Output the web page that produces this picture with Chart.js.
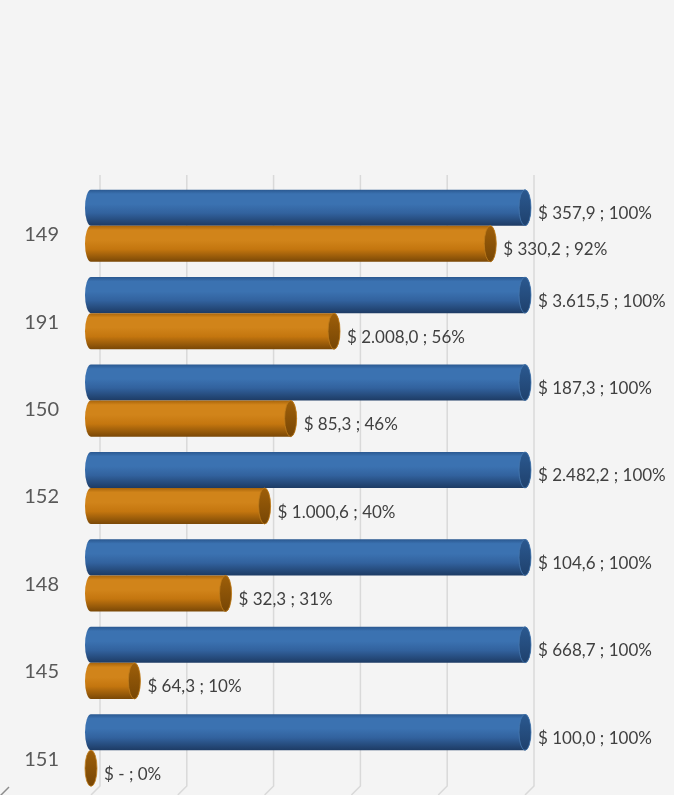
<!DOCTYPE html>
<html>
<head>
<meta charset="utf-8">
<script src="https://cdn.jsdelivr.net/npm/chart.js@4.4.1/dist/chart.umd.min.js"></script>
<style>
  html, body { margin: 0; padding: 0; background: #f4f4f4; }
  #wrap { width: 674px; height: 795px; position: relative; }
</style>
</head>
<body>
<div id="wrap"><canvas id="barChart"></canvas></div>
<script>
// data
const categories = ['149', '191', '150', '152', '148', '145', '151'];
const totalAmounts = [357.9, 3615.5, 187.3, 2482.2, 104.6, 668.7, 100.0];
const totalPct = [100, 100, 100, 100, 100, 100, 100];
const partAmounts = [330.2, 2008.0, 85.3, 1000.6, 32.3, 64.3, 0];
const partPct = [92, 56, 46, 40, 31, 10, 0];
const axisTicks = [0, 20, 40, 60, 80, 100];

const DEPTH_X = 9, DEPTH_Y = 8; // 3d offset of back wall

const blue = { edge: '#2a5890', light: '#3b72b1', mid: '#32629e', dark: '#1d3b64', cap1: '#2b5990', cap2: '#1f416d', rim: '#4577ae' };
const orange = { edge: '#a9650b', light: '#d1841a', mid: '#c4760f', dark: '#7a4806', cap1: '#9e5f09', cap2: '#774605', rim: '#bf7c1c' };

// "$ 3.615,5 ; 100%"
function fmtMoney(v) {
    if (!v) return '$ -';
    const parts = v.toFixed(1).split('.');
    parts[0] = parts[0].replace(/\B(?=(\d{3})+(?!\d))/g, '.');
    return '$ ' + parts[0] + ',' + parts[1];
}

function drawCylinder(ctx, x0, x1, y, h, c) {
    const rx = 6, ry = h / 2, top = y - ry;
    const g = ctx.createLinearGradient(0, top, 0, top + h);
    g.addColorStop(0, c.edge);
    g.addColorStop(0.12, c.light);
    g.addColorStop(0.4, c.light);
    g.addColorStop(0.65, c.mid);
    g.addColorStop(1, c.dark);
    if (x1 > x0) {
        ctx.beginPath();
        ctx.ellipse(x0, y, rx, ry, 0, Math.PI / 2, Math.PI * 1.5);
        ctx.lineTo(x1, top);
        ctx.ellipse(x1, y, rx, ry, 0, Math.PI * 1.5, Math.PI * 2.5);
        ctx.closePath();
        ctx.fillStyle = g;
        ctx.fill();
    }
    // end cap
    const cg = ctx.createLinearGradient(0, top, 0, top + h);
    cg.addColorStop(0, c.cap1);
    cg.addColorStop(1, c.cap2);
    ctx.beginPath();
    ctx.ellipse(x1, y, rx, ry, 0, 0, Math.PI * 2);
    ctx.fillStyle = cg;
    ctx.fill();
    ctx.lineWidth = 0.8;
    ctx.strokeStyle = c.rim;
    ctx.stroke();
}

// 1. BACKGROUND + BACK WALL GRID
const wallPlugin = {
    id: 'wall',
    beforeDraw(chart) {
        const ctx = chart.ctx;
        ctx.save();
        ctx.fillStyle = '#f4f4f4';
        ctx.fillRect(0, 0, chart.width, chart.height);
        ctx.restore();
    },
    beforeDatasetsDraw(chart) {
        const ctx = chart.ctx, area = chart.chartArea, xs = chart.scales.x;
        ctx.save();
        ctx.strokeStyle = '#d9d9d9';
        ctx.lineWidth = 1.5;
        axisTicks.forEach(t => {
            const px = xs.getPixelForValue(t);
            ctx.beginPath();
            ctx.moveTo(px + DEPTH_X, area.top - DEPTH_Y + 1);
            ctx.lineTo(px + DEPTH_X, area.bottom - DEPTH_Y);
            ctx.lineTo(px, area.bottom + 1);
            ctx.stroke();
        });
        // floor edge on the left
        ctx.strokeStyle = '#8c8c8c';
        ctx.beginPath();
        ctx.moveTo(0, area.bottom + 2);
        ctx.lineTo(DEPTH_X, area.bottom - DEPTH_Y + 1);
        ctx.stroke();
        ctx.restore();
    }
};

// 2. CYLINDERS + LABELS
const cylinderPlugin = {
    id: 'cylinders',
    afterDatasetsDraw(chart) {
        const ctx = chart.ctx;
        ctx.save();
        chart.data.datasets.forEach((ds, di) => {
            const meta = chart.getDatasetMeta(di);
            const colors = di === 0 ? blue : orange;
            const amounts = di === 0 ? totalAmounts : partAmounts;
            meta.data.forEach((bar, i) => {
                const p = bar.getProps(['x', 'y', 'base', 'height'], true);
                drawCylinder(ctx, p.base, p.x, p.y, p.height, colors);
                ctx.fillStyle = '#404040';
                ctx.font = '17px Lato, Carlito, sans-serif';
                ctx.textBaseline = 'middle';
                ctx.textAlign = 'left';
                ctx.fillText(fmtMoney(amounts[i]) + ' ; ' + ds.data[i] + '%', p.x + 13, p.y + 6);
            });
        });
        ctx.restore();
    }
};

const ctx = document.getElementById('barChart').getContext('2d');
const chart = new Chart(ctx, {
    type: 'bar',
    data: {
        labels: categories,
        datasets: [
            { label: 'Total', data: totalPct, backgroundColor: 'transparent', borderWidth: 0 },
            { label: 'Parcial', data: partPct, backgroundColor: 'transparent', borderWidth: 0 }
        ]
    },
    options: {
        indexAxis: 'y',
        responsive: true,
        maintainAspectRatio: false,
        animation: false,
        events: [],
        datasets: { bar: { categoryPercentage: 0.825, barPercentage: 1.0 } },
        layout: { padding: { left: 0, right: 149, top: 182, bottom: 1 } },
        plugins: { legend: { display: false }, tooltip: { enabled: false } },
        scales: {
            x: { min: 0, max: 100, display: false },
            y: {
                grid: { display: false, drawTicks: false },
                border: { display: false },
                ticks: {
                    color: '#595959',
                    font: { family: 'Lato', size: 20 },
                    padding: 32,
                    labelOffset: 9
                },
                afterFit(scale) {
                    scale.width = 91;
                    scale.paddingTop = 0;
                    scale.paddingBottom = 0;
                }
            }
        }
    },
    plugins: [wallPlugin, cylinderPlugin]
});
</script>
</body>
</html>
